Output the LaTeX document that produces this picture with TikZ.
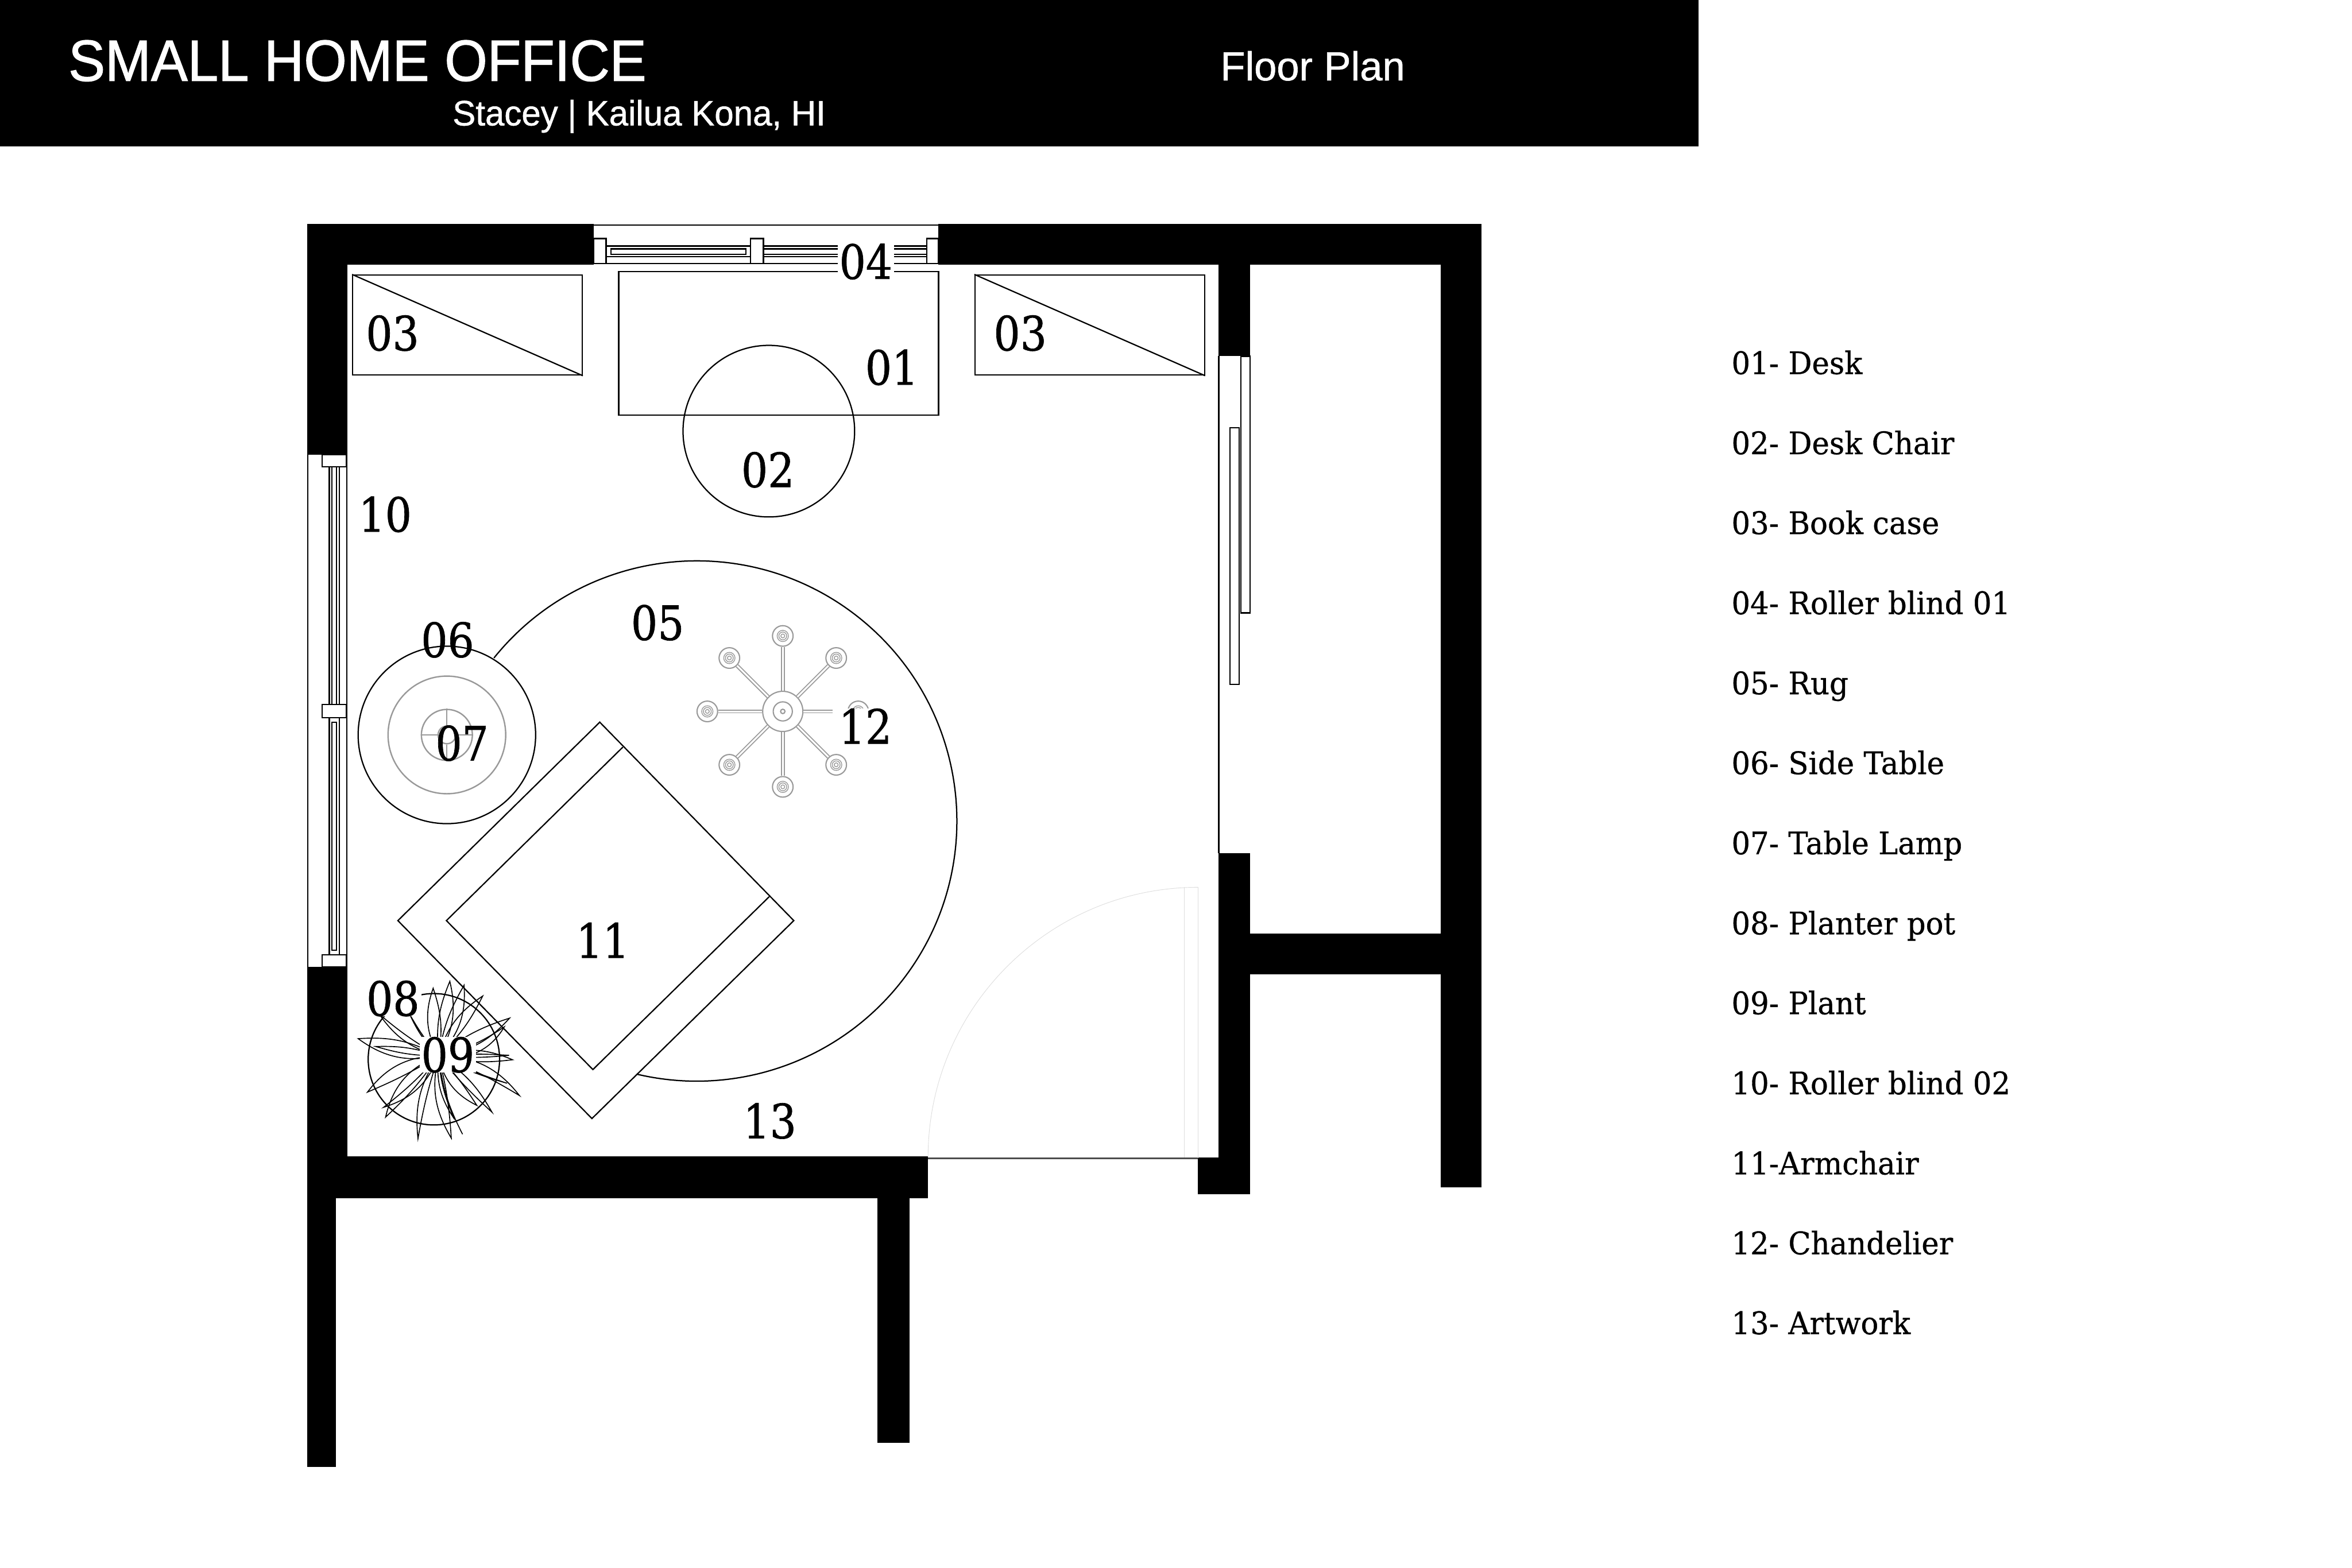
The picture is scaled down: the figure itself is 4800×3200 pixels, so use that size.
\documentclass[tikz,border=0pt]{standalone}
\usepackage{fontspec}
\setmainfont{Liberation Sans}
\newfontfamily\slabfont[FakeStretch=0.88,FakeBold=0.8]{DejaVu Serif}
\newfontfamily\keyfont[FakeStretch=0.95,FakeBold=0.6]{DejaVu Serif}
\newfontfamily\titlefont[FakeStretch=0.945,FakeBold=1.2]{Liberation Sans}
\newfontfamily\subfont[FakeStretch=0.976,FakeBold=0.9]{Liberation Sans}
\newfontfamily\sheetfont[FakeBold=0.9]{Liberation Sans}
\definecolor{fixture}{HTML}{999999}
\definecolor{doorgray}{HTML}{DDDDDD}
\tikzset{
    wall/.style={fill=black},
    furn/.style={draw=black,line width=0.75pt,inner sep=0pt},
    winline/.style={draw=black,line width=0.75pt,fill=white},
    lampring/.style={circle,draw=fixture,line width=0.8pt,inner sep=0pt},
    bulb/.style={circle,draw=fixture,fill=white,line width=0.7pt,inner sep=0pt,minimum size=0.42cm,
        path picture={
            \draw[fixture,line width=0.45pt] (path picture bounding box.center) circle[radius=0.115cm];
            \draw[fixture,line width=0.45pt] (path picture bounding box.center) circle[radius=0.08cm];
            \draw[fixture,line width=0.45pt] (path picture bounding box.center) circle[radius=0.04cm];
        }},
    hub/.style={circle,draw=fixture,fill=white,line width=0.7pt,inner sep=0pt},
    arm/.style={draw=fixture,line width=0.6pt,double=white,double distance=1pt},
    leaf/.style={draw=black,line width=0.55pt},
    doorline/.style={draw=doorgray,line width=0.3pt},
    numlabel/.style={inner sep=0pt,xshift=0.01cm,yshift=0.02cm,font=\slabfont\fontsize{27.5}{28}\selectfont},
    numknock/.style={numlabel,fill=white,inner xsep=1pt},
    keylabel/.style={anchor=base west,inner sep=0pt,xshift=-0.03cm,font=\keyfont\fontsize{18}{20}\selectfont},
    headtext/.style={anchor=base west,inner sep=0pt,text=white},
}
\begin{document}
\begin{tikzpicture}[x=0.01cm,y=-0.01cm]
    \useasboundingbox (0,0) rectangle (4800,3200);
    \fill[white] (0,0) rectangle (4800,3200);

    \fill[black] (0,0) rectangle (3466,299);
    \node[headtext,font=\titlefont\fontsize{33.8}{36}\selectfont] (title) at (139,165) {SMALL HOME OFFICE};
    \node[headtext,font=\subfont\fontsize{20.5}{22}\selectfont] (client) at (923,256) {Stacey | Kailua Kona, HI};
    \node[headtext,font=\sheetfont\fontsize{23.5}{25}\selectfont] (sheet) at (2490,164) {Floor Plan};

    \fill[wall] (627,457) rectangle (1212,540);
    \fill[wall] (1915,457) rectangle (3023,540);
    \fill[wall] (627,540) rectangle (709,928);
    \fill[wall] (627,1973) rectangle (709,2360);
    \fill[wall] (627,2360) rectangle (1894,2446);
    \fill[wall] (627,2446) rectangle (686,2994);
    \fill[wall] (1791,2446) rectangle (1856,2945);
    \fill[wall] (2487,539) rectangle (2551,727);
    \fill[wall] (2487,1741) rectangle (2551,2438);
    \fill[wall] (2444,2363) rectangle (2487,2438);
    \fill[wall] (2487,1905) rectangle (3023,1989);
    \fill[wall] (2940,539) rectangle (3023,2423);

    \draw[winline] (1212,459) -- (1915,459);
    \draw[winline] (1212,538) -- (1915,538);
    \draw[winline] (1236,502) rectangle (1532,524);
    \draw[winline] (1247,508) rectangle (1522,519);
    \draw[winline] (1558,502) rectangle (1891,524);
    \draw[winline] (1558,508) -- (1891,508);
    \draw[winline] (1558,519) -- (1891,519);
    \draw[winline] (1212,487) rectangle (1237,538);
    \draw[winline] (1532,487) rectangle (1558,538);
    \draw[winline] (1891,487) rectangle (1915,538);

    \draw[winline] (628,928) -- (628,1973);
    \draw[winline] (708,928) -- (708,1973);
    \draw[winline] (672,953) rectangle (693,1438);
    \draw[winline] (677,953) rectangle (687,1438);
    \draw[winline] (672,1465) rectangle (693,1949);
    \draw[winline] (677,1474) rectangle (687,1939);
    \draw[winline] (657,928) rectangle (707,953);
    \draw[winline] (657,1438) rectangle (707,1465);
    \draw[winline] (657,1949) rectangle (707,1973);

    \draw[furn,line width=1.1pt] (2487,727) -- (2487,1741);
    \draw[winline] (2532,727) rectangle (2551,1251);
    \draw[winline] (2510,873) rectangle (2529,1397);

    \draw[doorline] (1894,2362) .. controls (1894,2058) and (2141,1811) .. (2445,1811);
    \draw[doorline] (2417,1811) -- (2417,2364);
    \draw[doorline] (2445,1811) -- (2445,2364);
    \draw[draw=black!70,line width=0.8pt] (1894,2364) -- (2444,2364);

    \coordinate (rugstart) at (1008,1343);
    \draw[furn] (rugstart) arc[start angle=-141.2,end angle=103.3,radius=531];

    \node[furn,rectangle,minimum width=4.68cm,minimum height=2.04cm] (caseA) at (954,663.5) {};
    \node[furn,rectangle,minimum width=4.68cm,minimum height=2.04cm] (caseB) at (2224,663.5) {};
    \draw[furn] (caseA.north west) -- (caseA.south east);
    \draw[furn] (caseB.north west) -- (caseB.south east);

    \node[furn,rectangle,minimum width=6.525cm,minimum height=2.93cm] (desk) at (1589,700.5) {};
    \node[furn,circle,minimum size=3.5cm] (chair) at (1569,880) {};

    \filldraw[furn,fill=white] (1224,1474) -- (1620,1879) -- (1208,2283) -- (812,1879) -- cycle;
    \draw[furn] (1271,1525) -- (911,1879) -- (1210,2183) -- (1570,1830);

    \node[furn,circle,fill=white,minimum size=3.62cm] (sidetable) at (912,1500) {};
    \node[lampring,minimum size=2.4cm] (shade) at (912,1500) {};
    \node[lampring,minimum size=1.04cm] (lampbase) at (912,1500) {};
    \node[lampring,minimum size=0.36cm] (lampcap) at (912,1500) {};
    \draw[fixture,line width=0.8pt] (lampbase.west) -- (lampcap.west);
    \draw[fixture,line width=0.8pt] (lampbase.north) -- (lampcap.north);
    \draw[fixture,line width=0.8pt] (lampbase.east) -- (lampcap.east);
    \draw[fixture,line width=0.8pt] (lampbase.south) -- (lampcap.south);

    \node[hub,minimum size=0.82cm] (hubA) at (1597.5,1452) {};
    \node[bulb] (bulbA) at (1597.5,1298) {};
    \node[bulb] (bulbB) at (1706.5,1343) {};
    \node[bulb] (bulbC) at (1751.5,1452) {};
    \node[bulb] (bulbD) at (1706.5,1561) {};
    \node[bulb] (bulbE) at (1597.5,1606) {};
    \node[bulb] (bulbF) at (1488.5,1561) {};
    \node[bulb] (bulbG) at (1443.5,1452) {};
    \node[bulb] (bulbH) at (1488.5,1343) {};
    \draw[arm] (hubA) -- (bulbA);
    \draw[arm] (hubA) -- (bulbB);
    \draw[arm] (hubA) -- (bulbC);
    \draw[arm] (hubA) -- (bulbD);
    \draw[arm] (hubA) -- (bulbE);
    \draw[arm] (hubA) -- (bulbF);
    \draw[arm] (hubA) -- (bulbG);
    \draw[arm] (hubA) -- (bulbH);
    \node[hub,minimum size=0.39cm] (hubB) at (1597.5,1452) {};
    \node[hub,minimum size=0.09cm] (hubC) at (1597.5,1452) {};

    \node[furn,circle,minimum size=2.68cm] (pot) at (885.5,2162) {};
    \coordinate (plant) at (895,2155);
    \draw[leaf] (plant) to[bend left=14] (918,2003) to[bend left=22] (plant);
    \draw[leaf] (plant) to[bend left=24] (884,2017) to[bend left=14] (plant);
    \draw[leaf] (plant) to[bend right=24] (947,2011) to[bend right=10] (plant);
    \draw[leaf] (plant) to[bend right=10] (985,2033) to[bend right=20] (plant);
    \draw[leaf] (plant) to[bend left=10] (1040,2078) to[bend left=20] (plant);
    \draw[leaf] (plant) to[bend right=10] (1029,2096) to[bend left=36] (plant);
    \draw[leaf] (plant) to[bend right=16] (731,2120) to[bend right=24] (plant);
    \draw[leaf] (plant) to[bend right=10] (767,2136) to[bend right=8] (plant);
    \draw[leaf] (plant) to[bend right=5] (1039,2154) to[bend right=4] (plant);
    \draw[leaf] (plant) to[bend right=10] (1046,2163) to[bend right=20] (plant);
    \draw[leaf] (plant) to[bend right=6] (1035,2211) to[bend left=4] (plant);
    \draw[leaf] (plant) to[bend left=26] (1060,2236) to[bend right=5] (plant);
    \draw[leaf] (plant) to[bend left=14] (1004,2270) to[bend left=4] (plant);
    \draw[leaf] (plant) to[bend right=26] (973,2256) to[bend right=5] (plant);
    \draw[leaf] (plant) to[bend right=10] (944,2315) to[bend left=10] (plant);
    \draw[leaf] (plant) to[bend right=22] (921,2323) to[bend right=5] (plant);
    \draw[leaf] (plant) to[bend right=20] (928,2285) to[bend left=10] (plant);
    \draw[leaf] (plant) to[bend right=20] (853,2324) to[bend left=4] (plant);
    \draw[leaf] (plant) to[bend left=6] (787,2280) to[bend left=28] (plant);
    \draw[leaf] (plant) to[bend left=26] (783,2260) to[bend right=5] (plant);
    \draw[leaf] (plant) to[bend right=26] (750,2229) to[bend right=4] (plant);
    \draw[leaf] (plant) to[bend left=20] (774,2070) to[bend right=5] (plant);
    \draw[leaf] (plant) to[bend left=10] (836,2070) to[bend right=5] (plant);

    \node[numlabel] (n01) at (1819,752) {01};
    \node[numlabel] (n02) at (1566,961) {02};
    \node[numlabel] (n03a) at (800,682) {03};
    \node[numlabel] (n03b) at (2081,682) {03};
    \node[numknock] (n04) at (1766,536) {04};
    \node[numlabel] (n05) at (1341,1273) {05};
    \node[numlabel] (n06) at (912.5,1308) {06};
    \node[numlabel] (n07) at (942,1519) {07};
    \node[numknock] (n08) at (801,2040) {08};
    \node[numknock] (n09) at (913,2155) {09};
    \node[numlabel] (n10) at (785,1052) {10};
    \node[numlabel] (n11) at (1229,1921) {11};
    \node[numknock,inner xsep=3.5pt] (n12) at (1765,1484) {12};
    \node[numlabel] (n13) at (1570,2290) {13};

    \node[keylabel] (k01) at (3536,763.5) {01- Desk};
    \node[keylabel] (k02) at (3536,927) {02- Desk Chair};
    \node[keylabel] (k03) at (3536,1090) {03- Book case};
    \node[keylabel] (k04) at (3536,1253.5) {04- Roller blind 01};
    \node[keylabel] (k05) at (3536,1417) {05- Rug};
    \node[keylabel] (k06) at (3536,1580) {06- Side Table};
    \node[keylabel] (k07) at (3536,1743.5) {07- Table Lamp};
    \node[keylabel] (k08) at (3536,1907) {08- Planter pot};
    \node[keylabel] (k09) at (3536,2070) {09- Plant};
    \node[keylabel] (k10) at (3536,2233.5) {10- Roller blind 02};
    \node[keylabel] (k11) at (3536,2397) {11-Armchair};
    \node[keylabel] (k12) at (3536,2560) {12- Chandelier};
    \node[keylabel] (k13) at (3536,2723) {13- Artwork};
\end{tikzpicture}
\end{document}
